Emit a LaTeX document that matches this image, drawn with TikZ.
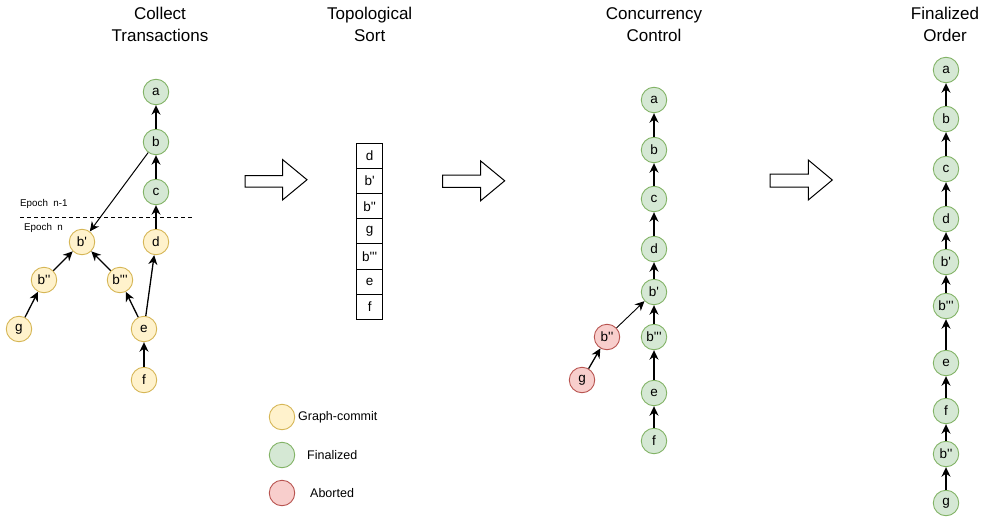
\documentclass[tikz,border=0pt]{standalone}
\usepackage{fontspec}
\setmainfont{Liberation Sans}[Ligatures=TeXOff]
\usetikzlibrary{arrows.meta}

\definecolor{pendfill}{HTML}{FFF2CC}
\definecolor{pendline}{HTML}{D6B656}
\definecolor{finfill}{HTML}{D5E8D4}
\definecolor{finline}{HTML}{82B366}
\definecolor{abfill}{HTML}{F8CECC}
\definecolor{abline}{HTML}{B85450}

\begin{document}
\begin{tikzpicture}[x=1pt,y=-1pt,
  tx/.style={circle, draw, line width=0.9pt, minimum size=25.5pt, inner sep=0pt,
             font=\fontsize{13.5}{15}\selectfont},
  pend/.style={tx, fill=pendfill, draw=pendline},
  fin/.style={tx, fill=finfill, draw=finline},
  abrt/.style={tx, fill=abfill, draw=abline},
  dep/.style={-{Stealth[length=9.5pt,width=9pt,inset=3pt]}, line width=1.3pt},
  thindep/.style={dep, line width=0.9pt},
  heading/.style={align=center, font=\fontsize{17}{22}\selectfont},
  cell/.style={draw, line width=0.8pt, minimum width=26pt, minimum height=25.14pt,
               inner sep=0pt, font=\fontsize{13.5}{15}\selectfont},
  bigarrow/.style={draw, line width=1pt, fill=white, line join=miter},
  legendtext/.style={anchor=west, inner sep=0pt, font=\fontsize{12.5}{14}\selectfont},
  epoch/.style={anchor=west, inner sep=0pt, font=\fontsize{9.8}{11}\selectfont}]

\useasboundingbox (0,0) rectangle (982,519);

% ---- headings ----
\node[heading] (h1) at (160,24.5) {Collect\\Transactions};
\node[heading] (h2) at (369.7,24.5) {Topological\\Sort};
\node[heading] (h3) at (654,24.5) {Concurrency\\Control};
\node[heading] (h4) at (945,24.5) {Finalized\\Order};

% ---- collected transaction graph ----
\node[fin]  (ca)  at (156,92)  {a};
\node[fin]  (cb)  at (156,142) {b};
\node[fin]  (cc)  at (156,192) {c};
\node[pend] (cd)  at (156,242) {d};
\node[pend] (cb1) at (82,242)  {b'};
\node[pend] (cb2) at (44,280)  {b''};
\node[pend] (cb3) at (120,280) {b'''};
\node[pend] (cg)  at (19,329)  {g};
\node[pend] (ce)  at (144,329) {e};
\node[pend] (cf)  at (144,380) {f};

\coordinate (sepL) at (20,217.5);
\coordinate (sepR) at (194,217.5);
\draw[dashed, line width=0.9pt, dash pattern=on 4pt off 3pt] (sepL) -- (sepR);
\node[epoch] (ep1) at (20,203.5) {Epoch\ \ n-1};
\node[epoch] (ep2) at (24,227.5) {Epoch\ \ n};

\draw[dep] (cb) -- (ca);
\draw[dep] (cc) -- (cb);
\draw[dep] (cd) -- (cc);
\draw[dep, line width=1pt] (cb) -- (cb1);
\draw[dep] (cb2) -- (cb1);
\draw[dep] (cb3) -- (cb1);
\draw[dep] (cg) -- (cb2);
\draw[dep] (ce) -- (cb3);
\draw[dep] (ce) -- (cd);
\draw[dep] (cf) -- (ce);

% ---- block arrows between stages ----
\draw[bigarrow] (245,175.5) -- (282.5,175.5) -- (282.5,159.5) -- (307,179.75)
  -- (282.5,200) -- (282.5,187) -- (245,187) -- cycle;
\draw[bigarrow] (442.5,175) -- (480.7,175) -- (480.7,161) -- (504.7,180.8)
  -- (480.7,200.7) -- (480.7,187.3) -- (442.5,187.3) -- cycle;
\draw[bigarrow] (770,174) -- (808.3,174) -- (808.3,160) -- (832.3,180)
  -- (808.3,200) -- (808.3,187) -- (770,187) -- cycle;

% ---- topological order ----
\node[cell] (s1) at (369.7,155.9) {d};
\node[cell] (s2) at (369.7,181.0) {b'};
\node[cell] (s3) at (369.7,206.2) {b''};
\node[cell] (s4) at (369.7,231.3) {g};
\node[cell] (s5) at (369.7,256.4) {b'''};
\node[cell] (s6) at (369.7,281.6) {e};
\node[cell] (s7) at (369.7,306.7) {f};

% ---- legend ----
\node[pend] (lg1) at (282,417) {};
\node[fin]  (lg2) at (282,455) {};
\node[abrt] (lg3) at (282,493) {};
\node[legendtext] (lt1) at (298,417) {Graph-commit};
\node[legendtext] (lt2) at (307,455) {Finalized};
\node[legendtext] (lt3) at (310,493) {Aborted};

% ---- concurrency control ----
\node[fin]  (ka)  at (654,100) {a};
\node[fin]  (kb)  at (654,150) {b};
\node[fin]  (kc)  at (654,199) {c};
\node[fin]  (kd)  at (654,249) {d};
\node[fin]  (kb1) at (654,292) {b'};
\node[fin]  (kb3) at (654,337) {b'''};
\node[fin]  (ke)  at (654,393) {e};
\node[fin]  (kf)  at (654,441) {f};
\node[abrt] (kb2) at (607,337) {b''};
\node[abrt] (kg)  at (582,380) {g};

\draw[dep] (kb) -- (ka);
\draw[dep] (kc) -- (kb);
\draw[dep] (kd) -- (kc);
\draw[dep] (kb1) -- (kd);
\draw[dep] (kb3) -- (kb1);
\draw[dep] (ke) -- (kb3);
\draw[dep] (kf) -- (ke);
\draw[thindep] (kb2) -- (kb1);
\draw[dep] (kg) -- (kb2);

% ---- finalized order ----
\node[fin] (fa)  at (946,70)  {a};
\node[fin] (fb)  at (946,119) {b};
\node[fin] (fc)  at (946,169) {c};
\node[fin] (fd)  at (946,219) {d};
\node[fin] (fb1) at (946,262) {b'};
\node[fin] (fb3) at (946,306) {b'''};
\node[fin] (fe)  at (946,363) {e};
\node[fin] (ff)  at (946,411) {f};
\node[fin] (fb2) at (946,454) {b''};
\node[fin] (fg)  at (946,503) {g};

\draw[dep] (fb) -- (fa);
\draw[dep] (fc) -- (fb);
\draw[dep] (fd) -- (fc);
\draw[dep] (fb1) -- (fd);
\draw[dep] (fb3) -- (fb1);
\draw[dep] (fe) -- (fb3);
\draw[dep] (ff) -- (fe);
\draw[dep] (fb2) -- (ff);
\draw[dep] (fg) -- (fb2);

\end{tikzpicture}
\end{document}
